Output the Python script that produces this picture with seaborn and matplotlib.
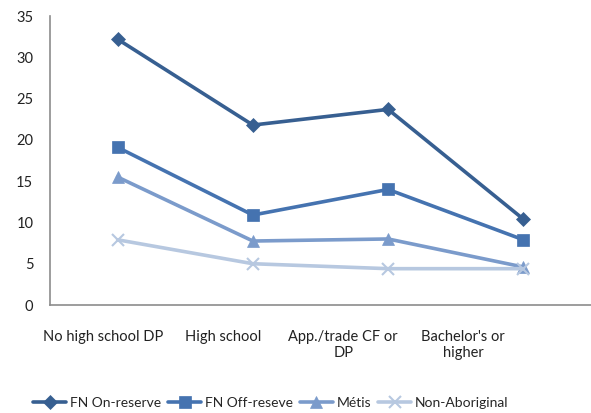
import numpy as np
import pandas as pd
import matplotlib
matplotlib.use("Agg")
import matplotlib.pyplot as plt
import seaborn as sns

categories = ["No high school DP", "High school", "App./trade CF or\nDP", "Bachelor's or\nhigher"]
fn_on_reserve = [32.2, 21.8, 23.7, 10.4]
fn_off_reserve = [19.1, 10.9, 14.0, 7.9]
metis = [15.5, 7.75, 8.0, 4.6]
non_aboriginal = [7.9, 5.0, 4.4, 4.4]

series_names = ["FN On-reserve", "FN Off-reseve", "Métis", "Non-Aboriginal"]
series_values = [fn_on_reserve, fn_off_reserve, metis, non_aboriginal]
colors = ["#375F91", "#4573B0", "#7B9BCB", "#B7C8E0"]
markers = ["D", "s", "^", "x"]
msizes = [7, 9, 9, 9]

sns.set_theme(style="white")
plt.rcParams["font.family"] = ["Lato", "DejaVu Sans"]

frames = []
for name, vals in zip(series_names, series_values):
    frames.append(pd.DataFrame({"x": np.arange(len(categories)), "value": vals, "series": name}))
df = pd.concat(frames, ignore_index=True)

fig = plt.figure(figsize=(5.91, 4.13), dpi=100)
ax = fig.add_axes([0.0846, 0.2615, 0.9154, 0.6995])

for name, color, mk, ms in zip(series_names, colors, markers, msizes):
    sub = df[df["series"] == name]
    sns.lineplot(data=sub, x="x", y="value", ax=ax, color=color, marker=mk,
                 markersize=ms, linewidth=2.6, markeredgecolor=color,
                 markeredgewidth=1.5 if mk == "x" else 0.5, label=name)

ax.set_xlim(-0.5, len(categories) - 0.5)
ax.set_ylim(0, 35)
ax.set_yticks(range(0, 36, 5))

# category labels sit on a slightly tighter spacing than the plotted points
label_pos = [-0.104 + 0.886 * i for i in range(len(categories))]
ax.set_xticks(label_pos)
ax.set_xticklabels(categories, fontsize=10.5, color="#222222")
ax.tick_params(axis="y", labelsize=10.5, labelcolor="#222222", length=0, pad=12)
ax.tick_params(axis="x", length=0, pad=18)
ax.set_xlabel("")
ax.set_ylabel("")

for side in ["top", "right"]:
    ax.spines[side].set_visible(False)
for side in ["left", "bottom"]:
    ax.spines[side].set_color("#8C8C8C")
    ax.spines[side].set_linewidth(1.2)

handles, labels = ax.get_legend_handles_labels()
ax.get_legend().remove()
fig.legend(handles, labels, loc="center", bbox_to_anchor=(0.458, 0.024), ncol=4,
           frameon=False, fontsize=10, handlelength=2.4, columnspacing=0.5,
           handletextpad=0.25, borderaxespad=0, borderpad=0)

fig.savefig("out.png", dpi=100)
